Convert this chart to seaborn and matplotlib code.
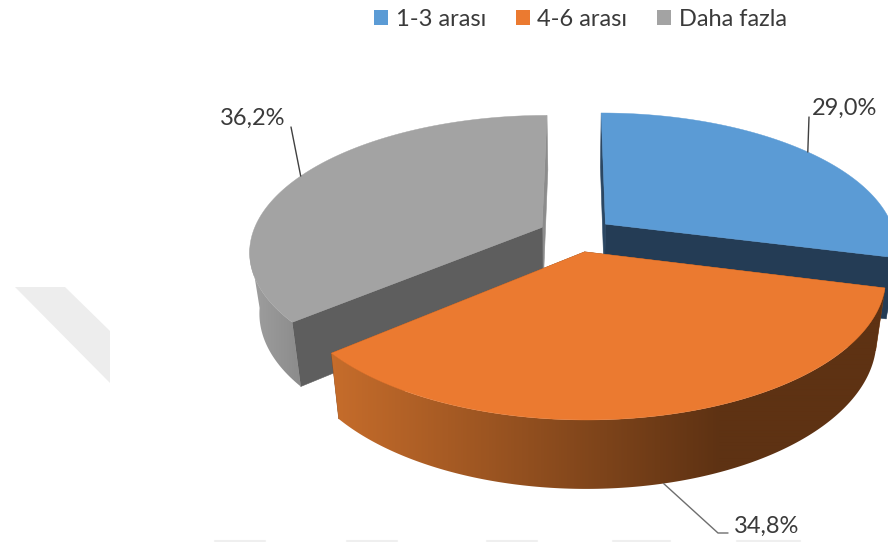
import numpy as np
import pandas as pd
import seaborn as sns
import matplotlib.pyplot as plt
from matplotlib.colors import ListedColormap
from matplotlib.patches import Patch, Polygon

categories = ['1-3 arası', '4-6 arası', 'Daha fazla']
shares = [29.0, 34.8, 36.2]

top_colors = ['#5B9BD5', '#EB7A30', '#A3A3A3']
cut_colors = ['#243C55', '#8A4A1C', '#5E5E5E']
edge_colors = ['#2B4763', '#8A4A1C', '#8C8C8C']
wall_ramps = [
	['#243C55', '#243C55'],
	['#C56C2B', '#5E3213'],
	['#9E9E9E', '#8A8A8A'],
]
wall_x_range = [(880, 890), (335, 720), (252, 305)]

# pie geometry, in output pixels
PX, PY = 576.0, 234.6
RX, RY = 290.0, 133.2
PERSP = 0.169
EXPLODE = 0.13
FLOOR = 0.97


def project(x, y):
	s = 1.0 / (1.0 - PERSP * y)
	return PX + RX * x * s, PY + RY * y * s, s


def top_point(angle, radius, center):
	a = np.radians(angle)
	return project(center[0] + radius * np.sin(a), center[1] - radius * np.cos(a))


def bottom_point(angle, radius, center):
	X, Y, s = top_point(angle, radius, center)
	return PX + (X - PX) * FLOOR, Y + 22.0 + 38.0 * s


def draw_wall(ax, angles, center, idx):
	# only the front of the rim shows, the outline folds over itself behind that
	angles = angles[(angles >= 90) & (angles <= 262)]
	# gradient image clipped to the outline of the outer wall
	upper = [top_point(a, 1.0, center)[:2] for a in angles]
	lower = [bottom_point(a, 1.0, center) for a in angles]
	outline = np.array(upper + lower[::-1])
	lo, hi = wall_x_range[idx]
	cmap = ListedColormap(sns.blend_palette(wall_ramps[idx], n_colors=256))
	xs = np.arange(outline[:, 0].min() - 1, outline[:, 0].max() + 2)
	grad = np.clip((xs - lo) / (hi - lo), 0, 1).reshape(1, -1)
	ymin, ymax = outline[:, 1].min(), outline[:, 1].max()
	im = ax.imshow(grad, cmap=cmap, vmin=0, vmax=1, aspect='auto', interpolation='bilinear',
		extent=(xs[0], xs[-1], ymax, ymin), zorder=idx_z[idx])
	poly = Polygon(outline, closed=True, transform=ax.transData)
	im.set_clip_path(poly)


def draw_slice(ax, start, end, idx):
	mid = np.radians((start + end) / 2.0)
	center = (EXPLODE * np.sin(mid), -EXPLODE * np.cos(mid))
	angles = np.linspace(start, end, 161)

	# cut faces first
	for angle, color in ((end, cut_colors[idx]), (start, cut_colors[idx])):
		t0 = top_point(angle, 0.0, center)
		t1 = top_point(angle, 1.0, center)
		b0 = bottom_point(angle, 0.0, center)
		b1 = bottom_point(angle, 1.0, center)
		if idx == 0 and angle == start:
			color = edge_colors[0]
		if idx == 2 and angle == end:
			color = edge_colors[2]
		ax.fill([t0[0], t1[0], b1[0], b0[0]], [t0[1], t1[1], b1[1], b0[1]],
			color=color, lw=0.4, zorder=idx_z[idx])

	draw_wall(ax, angles, center, idx)

	# top face
	rim = [top_point(a, 1.0, center) for a in angles]
	apex = top_point(0.0, 0.0, center)
	xs = [apex[0]] + [p[0] for p in rim]
	ys = [apex[1]] + [p[1] for p in rim]
	ax.fill(xs, ys, color=top_colors[idx], lw=0.3, zorder=idx_z[idx] + 0.5)

	return center, np.degrees(mid)


# back slices first, orange sits over both others
idx_z = {2: 2, 0: 3, 1: 4}

df = pd.DataFrame({'category': categories, 'share': shares})
df['end'] = df['share'].cumsum() / df['share'].sum() * 360.0
df['start'] = df['end'].shift(1).fillna(0.0)

sns.set_theme(style='white')
plt.rcParams['font.family'] = ['Lato', 'DejaVu Sans']

fig = plt.figure(figsize=(8.88, 5.42), dpi=100)
ax = fig.add_axes([0, 0, 1, 1])
ax.axis('off')

# faint leftovers of the source page behind the chart
ax.fill([15, 65, 110, 110], [287, 287, 331, 383], color='#EDEDED', lw=0, zorder=0)
for x0, x1 in [(215, 265), (347, 397), (487, 537), (613, 670), (737, 800)]:
	ax.plot([x0, x1], [541, 541], color='#EFEFEF', lw=1.5, zorder=0)

label_pos = [(845, 108), (767, 526), (253, 118)]
elbow = [None, (718, 533), None]
line_end = [(809, 117), (728, 533), (291, 127)]
line_col = ['#404040', '#6E6E6E', '#404040']

for i, row in df.iterrows():
	center, mid = draw_slice(ax, row['start'], row['end'], i)
	if i == 1:
		anchor = bottom_point(mid, 1.0, center)
	else:
		anchor = top_point(mid, 1.0, center)
	pts = [anchor[:2]]
	if elbow[i] is not None:
		pts.append(elbow[i])
	pts.append(line_end[i])
	ax.plot([p[0] for p in pts], [p[1] for p in pts], color=line_col[i], lw=1.0, zorder=6)
	text = f"{row['share']:.1f}%".replace('.', ',')
	ax.text(label_pos[i][0], label_pos[i][1], text, fontsize=17, color='#3A3A3A',
		ha='center', va='center', zorder=7)

ax.set_xlim(0, 888)
ax.set_ylim(542, 0)

handles = [Patch(facecolor=c, edgecolor='none') for c in top_colors]
ax.legend(handles, categories, loc='center', bbox_to_anchor=(580.5, 19),
	bbox_transform=ax.transData, ncol=3, frameon=False, fontsize=17,
	labelcolor='#3A3A3A', handlelength=0.6, handleheight=0.6,
	handletextpad=0.32, columnspacing=1.25, borderpad=0, borderaxespad=0)

fig.savefig('out.png', dpi=100)
